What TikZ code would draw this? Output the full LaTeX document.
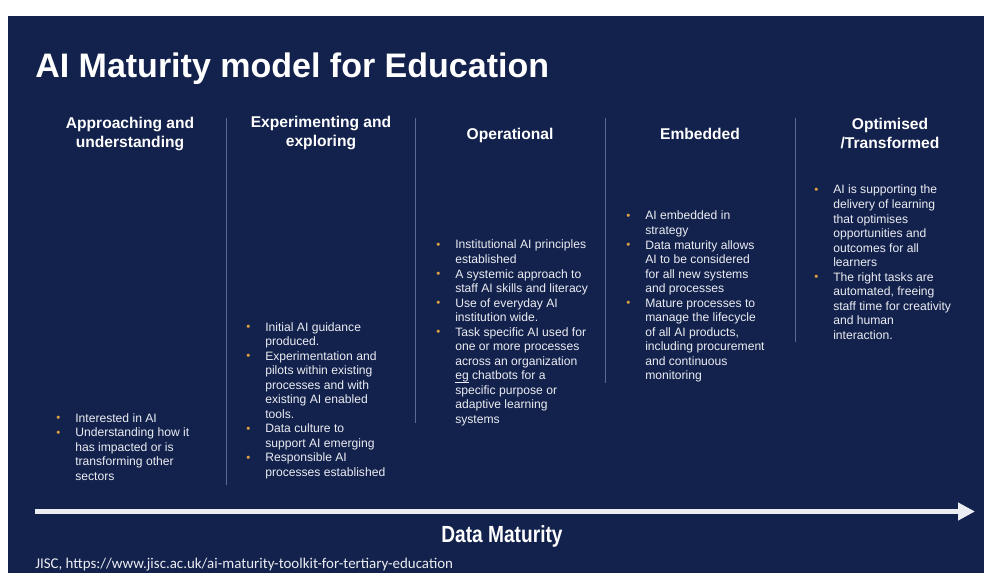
\documentclass[tikz,border=0pt]{standalone}
\usepackage{fontspec}
\setmainfont{Liberation Sans}
\newfontfamily\sourcefont{Carlito}
\usetikzlibrary{arrows.meta}

\definecolor{slatenavy}{RGB}{19,34,77}
\definecolor{dividergrey}{RGB}{92,106,145}
\definecolor{dotorange}{RGB}{226,160,64}
\definecolor{softwhite}{RGB}{236,237,242}

\tikzset{
	heading/.style = {font = \fontsize{11.7}{14.25}\selectfont\bfseries, text = white, inner sep = 0, anchor = base},
	points/.style = {font = \fontsize{9.1}{10.9}\selectfont, text = softwhite, inner sep = 0, anchor = base west},
	divider/.style = {dividergrey, line width = 0.75pt},
	dataArrow/.style = {softwhite, line width = 3.75pt, -{Triangle[length = 12.75pt, width = 12.75pt]}}
}

\newcommand{\rows}[2]{\begin{tabular}[t]{@{}#1@{}}#2\end{tabular}}
\newcommand{\bul}{\llap{\raisebox{0.4pt}{\textcolor{dotorange}{\fontsize{8.5}{8.5}\selectfont\textbullet}}\hspace{11.2pt}}}
\newcommand{\lowline}[1]{\setbox0\hbox{#1}\rlap{\rule[-2.2pt]{\wd0}{0.5pt}}#1}

\begin{document}
\begin{tikzpicture}[x = 0.75pt, y = -0.75pt]

	% Definitions
	
	\def\T{118}	% Top of the dividers
	
	% Background
	
	\useasboundingbox (0, 0) rectangle (984, 573);
	\fill [slatenavy] (8, 16) rectangle (984, 573);
	
	% Title
	
	\node [font = \fontsize{25.5}{30}\selectfont\bfseries, text = white, inner sep = 0, anchor = base west] (title) at (35, 78) {AI Maturity model for Education};
	
	% Column headings
	
	\node [heading] (headApproach) at (130, 129) {\rows{c}{Approaching and\\ understanding}};
	\node [heading] (headExperiment) at (321, 128) {\rows{c}{Experimenting and\\ exploring}};
	\node [heading] (headOperational) at (510, 140) {Operational};
	\node [heading] (headEmbedded) at (700, 140) {Embedded};
	\node [heading] (headOptimised) at (890, 130) {\rows{c}{Optimised\\ /Transformed}};
	
	% Dividers between columns
	
	\draw [divider] (226, \T) -- (226, 485);
	\draw [divider] (415, \T) -- (415, 423);
	\draw [divider] (605, \T) -- (605, 383);
	\draw [divider] (795, \T) -- (795, 342);
	
	% Bullet lists
	
	\node [points] (listApproach) at (75, 422) {\rows{l}{
		\bul Interested in AI\\
		\bul Understanding how it\\
		has impacted or is\\
		transforming other\\
		sectors}};
	
	\node [points] (listExperiment) at (265, 331) {\rows{l}{
		\bul Initial AI guidance\\
		produced.\\
		\bul Experimentation and\\
		pilots within existing\\
		processes and with\\
		existing AI enabled\\
		tools.\\
		\bul Data culture to\\
		support AI emerging\\
		\bul Responsible AI\\
		processes established}};
	
	\node [points] (listOperational) at (455, 249) {\rows{l}{
		\bul Institutional AI principles\\
		established\\
		\bul A systemic approach to\\
		staff AI skills and literacy\\
		\bul Use of everyday AI\\
		institution wide.\\
		\bul Task specific AI used for\\
		one or more processes\\
		across an organization\\
		\lowline{eg} chatbots for a\\
		specific purpose or\\
		adaptive learning\\
		systems}};
	
	\node [points] (listEmbedded) at (645, 220) {\rows{l}{
		\bul AI embedded in\\
		strategy\\
		\bul Data maturity allows\\
		AI to be considered\\
		for all new systems\\
		and processes\\
		\bul Mature processes to\\
		manage the lifecycle\\
		of all AI products,\\
		including procurement\\
		and continuous\\
		monitoring}};
	
	\node [points] (listOptimised) at (833, 194) {\rows{l}{
		\bul AI is supporting the\\
		delivery of learning\\
		that optimises\\
		opportunities and\\
		outcomes for all\\
		learners\\
		\bul The right tasks are\\
		automated, freeing\\
		staff time for creativity\\
		and human\\
		interaction.}};
	
	% Data maturity arrow
	
	\coordinate (arrowTail) at (35, 511.5);
	\coordinate (arrowTip) at (975, 511.5);
	\draw [dataArrow] (arrowTail) -- (arrowTip);
	
	\node [font = \fontsize{17.5}{20}\selectfont\bfseries\addfontfeature{FakeStretch = 0.82}, text = white, inner sep = 0, anchor = base] (dataLabel) at (502, 542) {Data Maturity};
	
	% Source
	
	\node [font = \sourcefont\fontsize{11.2}{13}\selectfont, text = softwhite, inner sep = 0, anchor = base west] (sourceLabel) at (35, 568.5) {JISC, https://www.jisc.ac.uk/ai-maturity-toolkit-for-tertiary-education};

\end{tikzpicture}
\end{document}
